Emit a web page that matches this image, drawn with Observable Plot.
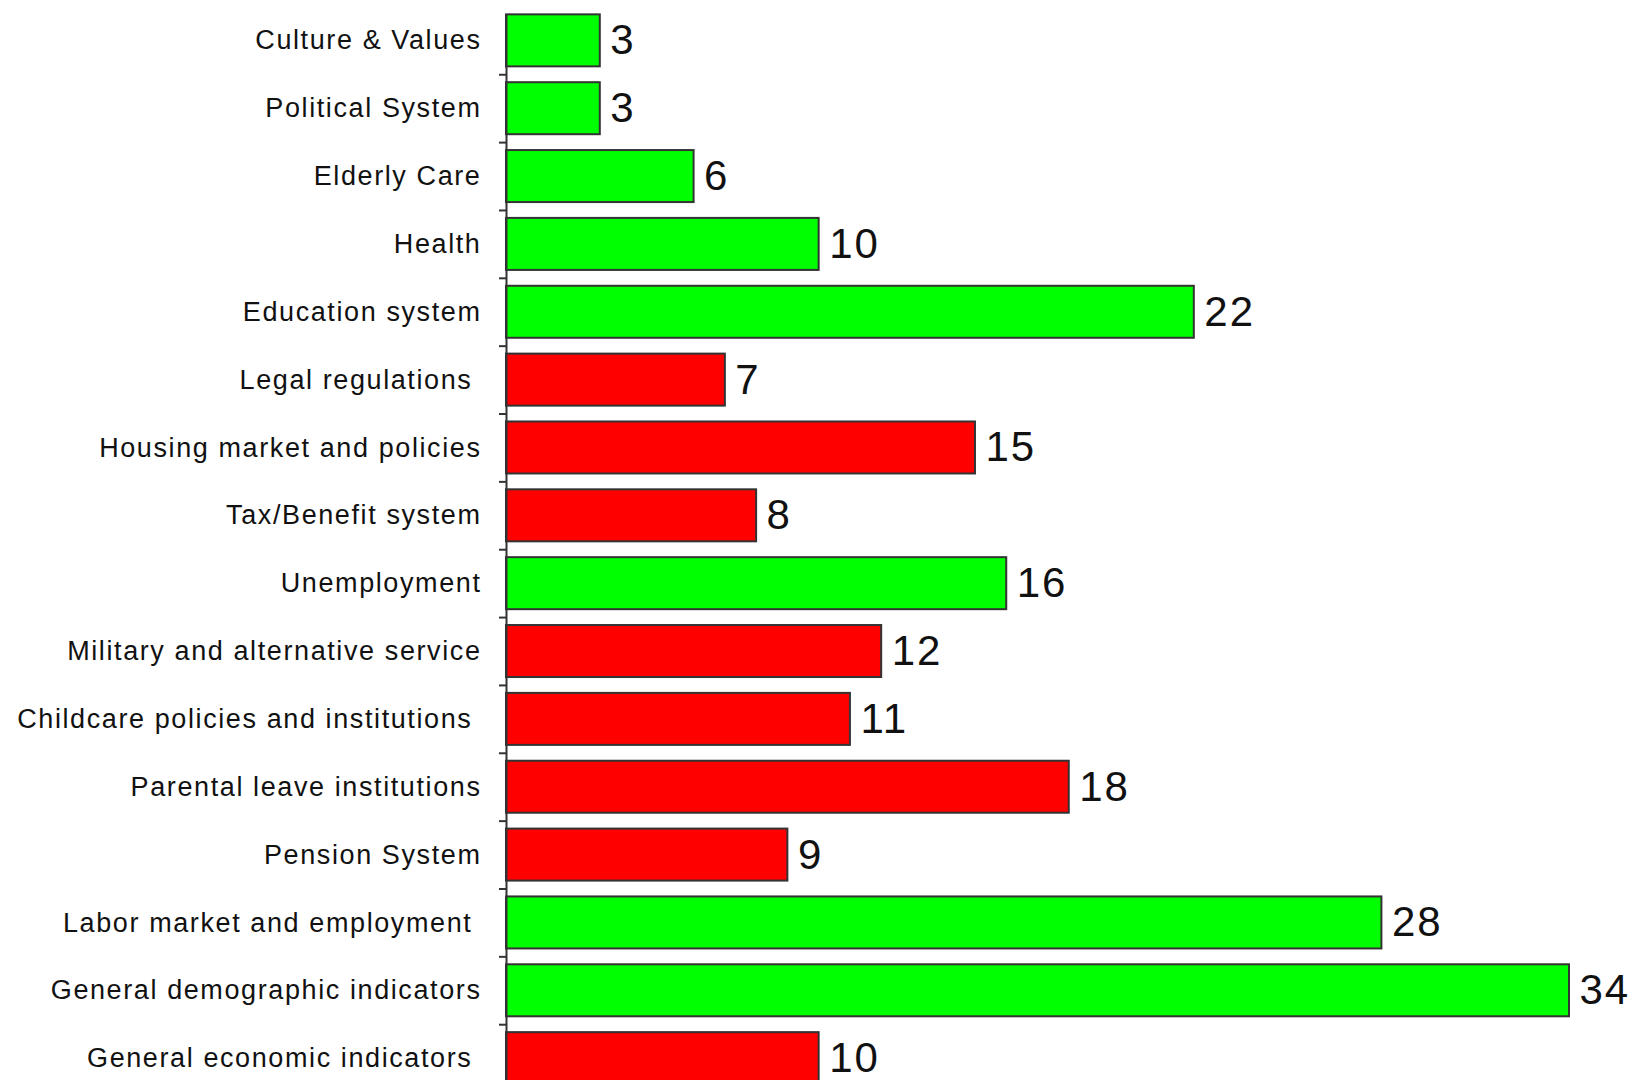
<!DOCTYPE html>
<html>
<head>
<meta charset="utf-8">
<script src="https://cdn.jsdelivr.net/npm/d3@7"></script>
<script src="https://cdn.jsdelivr.net/npm/@observablehq/plot@0.6"></script>
<style>
  html, body { margin: 0; padding: 0; background: #fff; }
  #chart svg { display: block; }
  #chart text { white-space: pre; }
  #chart g[aria-label="y-axis tick label"] text { letter-spacing: 1.6px; }
  #chart g[aria-label="text"] text { letter-spacing: 2px; }
</style>
</head>
<body>
<div id="chart"></div>
<script>
const categories = [
  "Culture & Values",
  "Political System",
  "Elderly Care",
  "Health",
  "Education system",
  "Legal regulations ",
  "Housing market and policies",
  "Tax/Benefit system",
  "Unemployment",
  "Military and alternative service",
  "Childcare policies and institutions ",
  "Parental leave institutions",
  "Pension System",
  "Labor market and employment ",
  "General demographic indicators",
  "General economic indicators "
];
const values = [3, 3, 6, 10, 22, 7, 15, 8, 16, 12, 11, 18, 9, 28, 34, 10];
const groups = ["G","G","G","G","G","R","R","R","G","R","R","R","R","G","G","R"];

const data = categories.map((c, i) => ({category: c, value: values[i], group: groups[i]}));

const chart = Plot.plot({
  width: 1634,
  height: 1080,
  marginLeft: 506,
  marginRight: 65,
  marginTop: 0,
  marginBottom: 0,
  style: {fontFamily: "Liberation Sans", background: "#fff"},
  x: {domain: [0, 34], range: [506, 1569], axis: null},
  y: {domain: categories, range: [-1.5, 1100], padding: 0.2336, round: false, label: null},
  color: {domain: ["G", "R"], range: ["#00ff00", "#ff0000"]},
  marks: [
    Plot.barX(data, {y: "category", x: "value", fill: "group", stroke: "#333", strokeWidth: 2}),
    Plot.text(data, {y: "category", x: "value", text: d => String(d.value), textAnchor: "start", dx: 10, fontSize: 42, fill: "#111"}),
    Plot.axisY({tickSize: 0, tickPadding: 25, fontSize: 27, fill: "#111"}),
    Plot.axisY({tickSize: 7, text: null, dy: 33.9, stroke: "#333", strokeWidth: 2}),
    Plot.ruleX([0], {stroke: "#333", strokeWidth: 2, insetTop: 14})
  ]
});
document.getElementById("chart").appendChild(chart);
</script>
</body>
</html>
